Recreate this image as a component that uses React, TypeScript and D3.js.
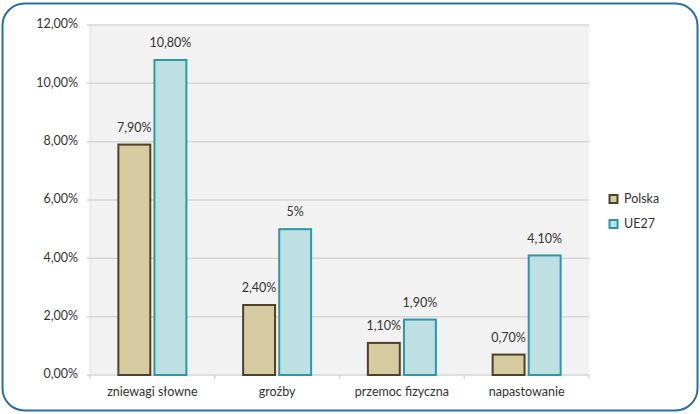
import { useEffect, useRef } from 'react'
import * as d3 from 'd3'

const categories = ['zniewagi słowne', 'groźby', 'przemoc fizyczna', 'napastowanie']
const series = ['Polska', 'UE27']
const polska = [7.9, 2.4, 1.1, 0.7]
const ue27 = [10.8, 5, 1.9, 4.1]
const polskaLabels = ['7,90%', '2,40%', '1,10%', '0,70%']
const ue27Labels = ['10,80%', '5%', '1,90%', '4,10%']
const yTicks = [0, 2, 4, 6, 8, 10, 12]

const fills = ['#d5caa0', '#bfe0e3']
const strokes = ['#4b4229', '#2b98aa']
const font = 'Lato, "Open Sans", sans-serif'

export default function App() {
  const svgRef = useRef<SVGSVGElement>(null)

  useEffect(() => {
    if (!svgRef.current) return
    document.body.style.margin = '0'
    const svg = d3.select(svgRef.current)
    svg.selectAll('*').remove()

    const width = 700
    const height = 414
    const margin = { top: 25, right: 111, bottom: 39, left: 90 }

    // frame
    svg.append('rect')
      .attr('x', 2.5).attr('y', 3.5)
      .attr('width', width - 5).attr('height', height - 7)
      .attr('rx', 22).attr('ry', 22)
      .attr('fill', '#fff')
      .attr('stroke', '#2a6ea6')
      .attr('stroke-width', 2)

    const x = d3.scaleBand<string>()
      .domain(categories)
      .range([margin.left, width - margin.right])

    const y = d3.scaleLinear()
      .domain([0, 12])
      .range([height - margin.bottom, margin.top])

    // plot background
    svg.append('rect')
      .attr('x', margin.left).attr('y', margin.top)
      .attr('width', width - margin.left - margin.right)
      .attr('height', height - margin.top - margin.bottom)
      .attr('fill', '#f2f2f2')

    // grid lines
    svg.append('g')
      .selectAll('line')
      .data(yTicks)
      .join('line')
      .attr('x1', margin.left - 3)
      .attr('x2', width - margin.right)
      .attr('y1', d => y(d))
      .attr('y2', d => y(d))
      .attr('stroke', '#d6d6d6')
      .attr('stroke-width', 1.5)

    // left axis line
    svg.append('line')
      .attr('x1', margin.left).attr('x2', margin.left)
      .attr('y1', margin.top).attr('y2', y(0))
      .attr('stroke', '#e0e0e0')

    // y tick labels
    svg.append('g')
      .selectAll('text')
      .data(yTicks)
      .join('text')
      .attr('x', margin.left - 12)
      .attr('y', d => y(d))
      .attr('text-anchor', 'end')
      .attr('dominant-baseline', 'middle')
      .style('font-family', font)
      .style('font-size', '12.5px')
      .style('fill', '#333')
      .text(d => d.toFixed(2).replace('.', ',') + '%')

    // x ticks
    const xTickPos = categories.map(c => x(c)!).concat([width - margin.right])
    svg.append('g')
      .selectAll('line')
      .data(xTickPos)
      .join('line')
      .attr('x1', d => d).attr('x2', d => d)
      .attr('y1', y(0)).attr('y2', y(0) + 4)
      .attr('stroke', '#d6d6d6')
      .attr('stroke-width', 1.5)

    // x labels
    svg.append('g')
      .selectAll('text')
      .data(categories)
      .join('text')
      .attr('x', d => x(d)! + x.bandwidth() / 2)
      .attr('y', y(0) + 18)
      .attr('text-anchor', 'middle')
      .attr('dominant-baseline', 'middle')
      .style('font-family', font)
      .style('font-size', '12.5px')
      .style('fill', '#333')
      .text(d => d)

    const inner = d3.scaleBand<number>()
      .domain([0, 1])
      .range([0, 70])
      .paddingInner(0.06)

    const values = [polska, ue27]
    const labels = [polskaLabels, ue27Labels]

    values.forEach((vals, si) => {
      const g = svg.append('g')
      g.selectAll('rect')
        .data(vals)
        .join('rect')
        .attr('x', (_, i) => x(categories[i])! + x.bandwidth() / 2 - 35 + inner(si)! + 1)
        .attr('y', d => y(d))
        .attr('width', inner.bandwidth() - 2)
        .attr('height', d => y(0) - y(d))
        .attr('fill', fills[si])
        .attr('stroke', strokes[si])
        .attr('stroke-width', 2)

      g.selectAll('text')
        .data(vals)
        .join('text')
        .attr('x', (_, i) => x(categories[i])! + x.bandwidth() / 2 - 35 + inner(si)! + inner.bandwidth() / 2)
        .attr('y', d => y(d) - 16)
        .attr('text-anchor', 'middle')
        .attr('dominant-baseline', 'middle')
        .style('font-family', font)
        .style('font-size', '12.5px')
        .style('fill', '#333')
        .text((_, i) => labels[si][i])
    })

    // legend
    const legend = svg.append('g').attr('transform', 'translate(609, 195)')
    series.forEach((s, i) => {
      legend.append('rect')
        .attr('x', 0.5).attr('y', i * 25)
        .attr('width', 8).attr('height', 8)
        .attr('fill', fills[i])
        .attr('stroke', strokes[i])
        .attr('stroke-width', 2)
      legend.append('text')
        .attr('x', 15).attr('y', i * 25 + 4.5)
        .attr('dominant-baseline', 'middle')
        .style('font-family', font)
        .style('font-size', '12.5px')
        .style('fill', '#333')
        .text(s)
    })
  }, [])

  return <svg ref={svgRef} width={700} height={414} style={{ display: 'block' }} />
}
